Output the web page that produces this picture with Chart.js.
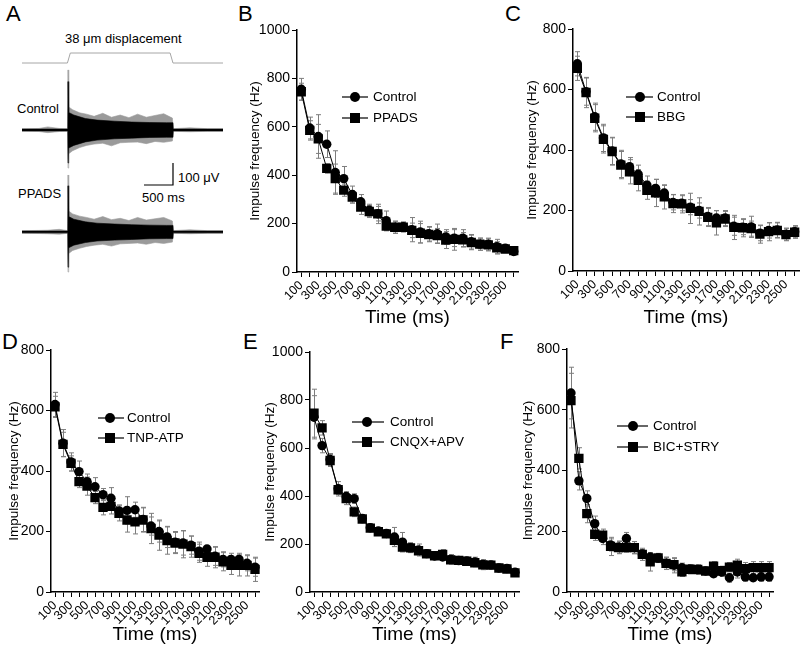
<!DOCTYPE html>
<html><head><meta charset="utf-8">
<script src="https://cdn.jsdelivr.net/npm/chart.js@4.4.1/dist/chart.umd.min.js"></script>
<style>
html,body{margin:0;padding:0;background:#fff;width:800px;height:652px;overflow:hidden;font-family:"Liberation Sans",Arial,Helvetica,sans-serif;}
body{position:relative;}
.lbl{position:absolute;font-size:22px;color:#000;line-height:1;}
.t{position:absolute;font-size:13px;color:#000;line-height:13px;white-space:nowrap;}
canvas{position:absolute;}
</style></head><body>
<div class="lbl" style="left:6px;top:3px">A</div>
<div class="lbl" style="left:238px;top:3px">B</div>
<div class="lbl" style="left:505px;top:3px">C</div>
<div class="lbl" style="left:2px;top:331px">D</div>
<div class="lbl" style="left:243px;top:331px">E</div>
<div class="lbl" style="left:500px;top:331px">F</div>
<div class="t" style="left:65px;top:32px">38 μm displacement</div>
<div class="t" style="left:17px;top:102px">Control</div>
<div class="t" style="left:18px;top:187px">PPADS</div>
<div class="t" style="left:178px;top:171px">100 μV</div>
<div class="t" style="left:142px;top:191px">500 ms</div>
<script>
// ---------- shared categories ----------
const categories = [100,200,300,400,500,600,700,800,900,1000,1100,1200,1300,1400,1500,1600,1700,1800,1900,2000,2100,2200,2300,2400,2500,2600];
const tickLabels = ['100','','300','','500','','700','','900','','1100','','1300','','1500','','1700','','1900','','2100','','2300','','2500',''];

// ---------- panel B ----------
const bControl    = [755,595,560,528,411,386,320,290,255,241,212,185,187,175,165,158,158,145,140,140,125,115,115,105,98,85];
const bControlErr = [45,45,90,55,90,50,35,30,25,30,40,25,20,50,45,30,40,30,35,35,30,25,25,30,15,15];
const bPPADS      = [745,585,550,428,386,338,310,268,250,240,190,185,185,172,160,155,150,132,135,133,122,115,112,100,95,88];
const bPPADSErr   = [35,40,60,20,60,25,25,30,25,40,20,25,20,30,40,30,30,35,45,30,30,25,25,25,15,15];
// ---------- panel C ----------
const cControl    = [685,593,510,440,397,354,345,320,284,273,258,227,224,211,200,180,175,175,148,145,146,125,134,136,122,130];
const cControlErr = [40,45,45,45,45,45,30,30,30,30,25,25,25,25,25,30,25,25,30,25,35,25,25,25,20,20];
const cBBG        = [670,590,505,435,395,350,328,300,267,258,245,223,222,207,197,177,159,172,144,143,140,122,130,134,120,128];
const cBBGErr     = [40,50,45,45,45,45,40,35,30,45,40,30,30,50,45,30,40,25,40,30,25,30,30,25,20,20];
// ---------- panel D ----------
const dControl    = [620,492,430,398,365,348,322,310,268,270,272,240,218,200,182,165,162,155,135,142,118,108,108,108,95,82];
const dControlErr = [40,45,30,35,25,30,20,35,20,45,25,40,30,35,35,35,40,30,30,10,30,25,20,20,25,30];
const dTNP        = [612,488,425,365,350,312,280,283,260,238,232,238,210,188,170,162,158,150,128,115,115,100,88,88,88,75];
const dTNPErr     = [35,40,25,20,30,20,25,25,25,40,40,40,50,50,45,35,45,35,30,30,35,30,30,35,35,40];
// ---------- panel E ----------
const eControl    = [728,610,552,430,398,389,306,268,254,244,229,208,185,175,160,150,146,136,131,129,125,115,113,100,98,82];
const eControlErr = [90,30,25,30,20,20,15,15,15,15,40,40,20,25,15,15,15,20,15,15,20,20,15,15,15,15];
const eCNQX       = [745,684,548,426,389,334,304,266,251,242,215,187,184,172,159,151,157,134,132,128,122,113,112,100,96,80];
const eCNQXErr    = [100,30,25,20,25,20,15,15,15,15,25,20,20,15,15,15,20,15,15,15,15,20,15,15,15,15];
// ---------- panel F ----------
const fControl    = [655,366,308,225,176,155,148,176,146,125,115,112,95,88,80,75,74,69,60,66,47,66,50,47,50,50];
const fControlErr = [85,30,25,25,20,20,20,20,20,15,15,15,20,25,15,15,15,10,10,15,15,20,15,10,15,15];
const fBIC        = [630,440,258,190,187,150,146,146,146,124,99,112,94,90,66,75,74,69,85,70,82,88,77,80,80,80];
const fBICErr     = [90,35,30,20,20,30,20,15,20,20,30,15,20,20,15,15,15,10,15,15,15,20,20,20,20,20];

// ---------- panel A (traces: time in ms from stimulus onset, amplitude in µV) ----------
const stimTime   = [-793,-10,40,1760,1810,2672];
const stimLevel  = [0,0,38,38,0,0];   // µm displacement
// dense black core of each recording
const coreTime   = [-793,-4,0,12,100,300,500,800,1100,1400,1700,1810,1815,2672];
const ctrlCoreU  = [4,4,220,80,68,52,45,40,36,34,33,33,4,4];
const ctrlCoreL  = [-4,-4,-150,-82,-70,-54,-46,-40,-37,-34,-33,-33,-4,-4];
const ppCoreU    = [4,4,210,70,58,46,40,36,33,31,30,30,4,4];
const ppCoreL    = [-4,-4,-160,-72,-60,-48,-41,-37,-34,-31,-30,-30,-4,-4];
// grey outliers (spikes) around the core
const spikeTime  = [-793,-500,-350,-150,-4,0,12,80,200,320,450,600,750,900,1050,1200,1350,1500,1650,1800,1812,2100,2400,2672];
const ctrlSpikeU = [6,7,14,7,6,273,105,92,78,72,62,76,58,68,56,72,58,66,74,54,6,10,6,6];
const ctrlSpikeL = [-6,-7,-12,-7,-6,-173,-108,-94,-80,-70,-64,-60,-72,-58,-56,-55,-62,-52,-56,-50,-6,-8,-6,-6];
const ppSpikeU   = [6,7,8,12,6,259,95,82,72,66,58,70,56,62,52,66,54,60,66,50,6,10,6,6];
const ppSpikeL   = [-6,-7,-8,-10,-6,-182,-98,-84,-74,-66,-60,-56,-64,-54,-52,-50,-56,-48,-52,-46,-6,-8,-6,-6];
const scaleBarTime = [1310,1810,1810];
const scaleBarAmp  = [-250,-250,-150];

const FAMILY = '"Liberation Sans", Arial, Helvetica, sans-serif';
Chart.defaults.font.family = FAMILY;
Chart.defaults.color = '#000';

function pts(xs, ys){ return xs.map((x,i)=>({x:x, y:ys[i]})); }

function addCanvas(left, top, w, h){
  const cv = document.createElement('canvas');
  cv.width = w; cv.height = h;
  cv.style.left = left+'px'; cv.style.top = top+'px';
  cv.style.width = w+'px'; cv.style.height = h+'px';
  document.body.appendChild(cv);
  return cv;
}

// ---- Panel A chart ----
(function(){
  const L=22, T=30, W=201, H=255;
  const cv = addCanvas(L,T,W,H);
  const fillDs = (data, fill, color, axis) => ({data, fill, backgroundColor:color, borderColor:color, borderWidth:0.6, pointRadius:0, yAxisID:axis, tension:0});
  new Chart(cv, {
    type:'line',
    data:{datasets:[
      {data: pts(stimTime, stimLevel), borderColor:'#a6a6a6', borderWidth:1, pointRadius:0, fill:false, yAxisID:'yS', tension:0},
      // lower index fills are painted last (on top): black cores first
      fillDs(pts(coreTime, ctrlCoreU), '+1', '#000', 'yC'),
      fillDs(pts(coreTime, ctrlCoreL), false, '#000', 'yC'),
      fillDs(pts(coreTime, ppCoreU), '+1', '#000', 'yP'),
      fillDs(pts(coreTime, ppCoreL), false, '#000', 'yP'),
      fillDs(pts(spikeTime, ctrlSpikeU), '+1', '#9a9a9a', 'yC'),
      fillDs(pts(spikeTime, ctrlSpikeL), false, '#9a9a9a', 'yC'),
      fillDs(pts(spikeTime, ppSpikeU), '+1', '#9a9a9a', 'yP'),
      fillDs(pts(spikeTime, ppSpikeL), false, '#9a9a9a', 'yP'),
      {data: pts(scaleBarTime, scaleBarAmp), borderColor:'#000', borderWidth:1.2, pointRadius:0, fill:false, yAxisID:'yC', tension:0}
    ]},
    options:{
      responsive:false, animation:false, devicePixelRatio:1,
      layout:{padding:0},
      plugins:{legend:{display:false}, tooltip:{enabled:false}},
      scales:{
        x:{type:'linear', display:false, min:-793, max:2672},
        yC:{display:false, min:-704.5, max:454.5},
        yP:{display:false, min:-241, max:918},
        yS:{display:false, min:-843.6, max:125.4}
      }
    }
  });
})();

// ---- plugins for B-F ----
const errorBarPlugin = {
  id:'errorBars',
  beforeDatasetsDraw(chart){
    const ctx = chart.ctx, ys = chart.scales.y;
    ctx.save();
    ctx.strokeStyle = '#7d7d7d'; ctx.lineWidth = 1;
    chart.data.datasets.forEach((ds,i)=>{
      if(!ds.errors) return;
      const meta = chart.getDatasetMeta(i);
      meta.data.forEach((pt,j)=>{
        const v = ds.data[j], e = ds.errors[j];
        const x = Math.round(pt.x)+0.5;
        const y1 = ys.getPixelForValue(v+e), y2 = ys.getPixelForValue(v-e);
        ctx.beginPath();
        ctx.moveTo(x,y1); ctx.lineTo(x,y2);
        ctx.moveTo(x-2.5,y1); ctx.lineTo(x+2.5,y1);
        ctx.moveTo(x-2.5,y2); ctx.lineTo(x+2.5,y2);
        ctx.stroke();
      });
    });
    ctx.restore();
  }
};
const legendPlugin = {
  id:'panelLegend',
  afterDraw(chart, args, o){
    const ctx = chart.ctx;
    chart.data.datasets.forEach((ds,i)=>{
      const y = o.rows[i] - o.oy;
      ctx.save();
      ctx.strokeStyle = '#000'; ctx.fillStyle = '#000'; ctx.lineWidth = 1.2;
      ctx.beginPath(); ctx.moveTo(o.x1-o.ox, y); ctx.lineTo(o.x2-o.ox, y); ctx.stroke();
      const mx = o.mx - o.ox;
      ctx.beginPath();
      if(ds.pointStyle === 'rect'){ ctx.rect(mx-5, y-5, 10, 10); }
      else { ctx.arc(mx, y, 5, 0, Math.PI*2); }
      ctx.fill();
      ctx.font = '13.5px ' + FAMILY; ctx.textBaseline = 'middle'; ctx.textAlign = 'left';
      ctx.fillText(ds.label, o.tx-o.ox, y+0.5);
      ctx.restore();
    });
  }
};

function buildPanel(cfg){
  const left = cfg.yTitleX - 12, top = cfg.areaT - 14;
  const right = cfg.areaR + 12, bottom = cfg.xTitleY + 16;
  const W = right-left, H = bottom-top;
  const cv = addCanvas(left, top, W, H);
  const base = {borderColor:'#000', borderWidth:1, pointBackgroundColor:'#000', pointBorderColor:'#000', pointBorderWidth:0, fill:false, tension:0};
  new Chart(cv, {
    type:'line',
    data:{labels: categories.map(String), datasets:[
      Object.assign({label:'Control', data:cfg.control, errors:cfg.controlErr, pointStyle:'circle', pointRadius:4.7}, base),
      Object.assign({label:cfg.name, data:cfg.treat, errors:cfg.treatErr, pointStyle:'rect', pointRadius:6.6}, base)
    ]},
    options:{
      responsive:false, animation:false, devicePixelRatio:1,
      layout:{padding:{top: cfg.areaT-top, right: right-cfg.areaR, left:0, bottom:0}},
      plugins:{legend:{display:false}, tooltip:{enabled:false},
        panelLegend:Object.assign({ox:left, oy:top}, cfg.legend)},
      scales:{
        x:{type:'category', offset:true,
          afterFit(s){ s.height = bottom - cfg.areaB; },
          grid:{display:true, drawOnChartArea:false, drawTicks:true, tickLength:5, color:'#000', lineWidth:1, offset:false},
          border:{display:true, color:'#000', width:1.5},
          ticks:{autoSkip:false, minRotation:45, maxRotation:45, padding:1, color:'#000', font:{size:12.5},
            callback:(v,i)=>tickLabels[i]},
          title:{display:true, text:'Time (ms)', color:'#000', font:{size:19}, padding:{top:0,bottom:4}}
        },
        y:{min:0, max:cfg.yMax,
          afterFit(s){ s.width = cfg.areaL - left; },
          grid:{display:true, drawOnChartArea:false, drawTicks:true, tickLength:5, color:'#000', lineWidth:1},
          border:{display:true, color:'#000', width:1.5},
          ticks:{stepSize:200, color:'#000', font:{size:14}, padding:2, callback:(v)=>String(v)},
          title:{display:true, text:'Impulse frequency (Hz)', color:'#000', font:{size:13.5}, padding:{top:4,bottom:0}}
        }
      }
    },
    plugins:[errorBarPlugin, legendPlugin]
  });
}

buildPanel({name:'PPADS', control:bControl, controlErr:bControlErr, treat:bPPADS, treatErr:bPPADSErr, yMax:1000,
  areaL:297, areaT:30, areaR:518, areaB:272, yTitleX:255, xTitleY:317,
  legend:{x1:342, x2:368, mx:355, tx:373, rows:[97,118]}});
buildPanel({name:'BBG', control:cControl, controlErr:cControlErr, treat:cBBG, treatErr:cBBGErr, yMax:800,
  areaL:573, areaT:29, areaR:799, areaB:271, yTitleX:532, xTitleY:317,
  legend:{x1:626, x2:653, mx:640, tx:657, rows:[97,117]}});
buildPanel({name:'TNP-ATP', control:dControl, controlErr:dControlErr, treat:dTNP, treatErr:dTNPErr, yMax:800,
  areaL:51, areaT:350, areaR:259, areaB:592, yTitleX:14, xTitleY:634,
  legend:{x1:98, x2:124, mx:110, tx:127, rows:[418,438]}});
buildPanel({name:'CNQX+APV', control:eControl, controlErr:eControlErr, treat:eCNQX, treatErr:eCNQXErr, yMax:1000,
  areaL:310, areaT:352, areaR:519, areaB:592, yTitleX:270, xTitleY:634,
  legend:{x1:352, x2:384, mx:367, tx:390, rows:[422,442]}});
buildPanel({name:'BIC+STRY', control:fControl, controlErr:fControlErr, treat:fBIC, treatErr:fBICErr, yMax:800,
  areaL:567, areaT:349, areaR:773, areaB:592, yTitleX:528, xTitleY:634,
  legend:{x1:617, x2:648, mx:633, tx:653, rows:[426,447]}});
</script>
</body></html>
